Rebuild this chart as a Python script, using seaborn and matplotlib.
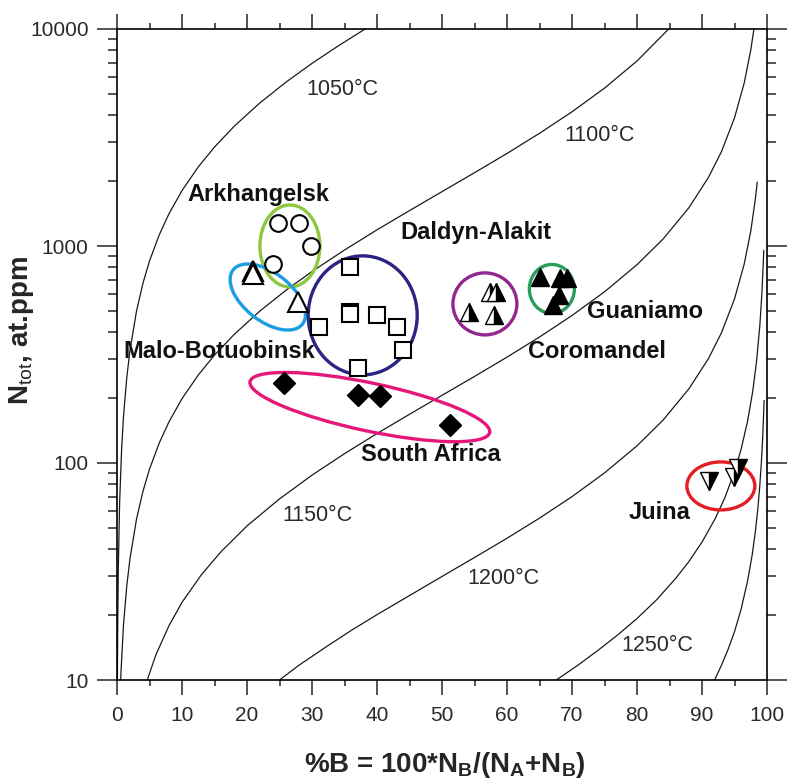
import matplotlib
matplotlib.use("Agg")
import matplotlib.pyplot as plt
import matplotlib.transforms as mtransforms
from matplotlib.patches import Ellipse
from matplotlib.ticker import LogLocator, NullFormatter
import seaborn as sns

# ---------------- data ----------------
# isotherm curves (x = %B, y = N tot, at.ppm)
t1050_x = [0.06, 0.1, 0.2, 0.4, 0.7, 1, 1.5, 2, 3, 4, 5, 6.5, 8, 10, 12.5, 15, 18, 22, 26, 30, 34, 38.2]
t1050_n = [9.7, 16.2, 32.5, 65.1, 114, 164, 247, 331, 501, 675, 853, 1126, 1409, 1800, 2314, 2859, 3556, 4569, 5692, 6943, 8345, 10013]

t1100_x = [0.5, 0.6, 1, 1.5, 2, 3, 4, 5, 6.5, 8, 10, 12.5, 15, 18, 22, 26, 30, 35, 40, 45, 50, 55, 60, 65, 70, 75, 80, 85]
t1100_n = [8.9, 10.7, 18.0, 27.1, 36.3, 55.1, 74.2, 93.7, 123.7, 154.8, 197.8, 254.3, 314.1, 390.7, 502.1, 625.4, 762.9,
           958.5, 1187, 1456, 1780, 2176, 2670, 3306, 4153, 5340, 7120, 10087]

t1150_x = [4, 4.8, 6, 8, 10, 13, 16, 20, 25, 30, 35, 40, 45, 50, 55, 60, 65, 70, 75, 80, 84, 88, 91, 93, 95, 96.5, 97.5, 98]
t1150_n = [8.5, 10.3, 13.1, 17.8, 22.8, 30.6, 39.0, 51.3, 68.3, 87.9, 110.4, 136.7, 167.7, 205, 250.6, 307.5, 380.7,
           478.3, 615, 820, 1076, 1503, 2073, 2724, 3895, 5652, 7995, 10045]

t1200_x = [22, 25, 28, 32, 36, 40, 45, 50, 55, 60, 65, 70, 75, 80, 84, 88, 91, 93, 95, 96.5, 97.5, 98.2, 98.5]
t1200_n = [8.46, 10.0, 11.7, 14.1, 16.9, 20, 24.5, 30, 36.7, 45, 55.7, 70, 90, 120, 157.5, 220, 303, 398.6, 570, 827,
           1170, 1637, 1970]

t1250_x = [66, 68, 71, 74, 77, 80, 83, 86, 88, 90, 92, 93.5, 95, 96, 97, 97.8, 98.4, 98.9, 99.2, 99.45, 99.5]
t1250_n = [9.3, 10.2, 11.75, 13.7, 16.1, 19.2, 23.4, 29.5, 35.2, 43.2, 55.2, 69.0, 91.2, 115.2, 155.2, 213.4, 295,
           431.6, 595, 868, 955]

t1300_x = [91.5, 92, 93, 94, 95, 96, 97, 97.7, 98.2, 98.6, 98.9, 99.15, 99.35, 99.5, 99.55]
t1300_n = [9.47, 10.1, 11.7, 13.8, 16.7, 21.1, 28.5, 37.4, 48.0, 62.0, 79.1, 102.7, 133.6, 175, 194]

# diamond groups
ark_x = [24.8, 28.0, 29.9, 24.0]
ark_n = [1283, 1283, 995, 826]
malo_x = [20.9, 20.9, 27.8]
malo_n = [770, 746, 552]
dald_x = [35.85, 35.85, 35.85, 39.95, 43.0, 31.0, 44.05, 37.0]
dald_n = [804, 497, 486, 481, 425, 425, 332, 273]
safr_x = [25.7, 37.0, 40.5, 51.2]
safr_n = [234, 206, 204, 150]
coro_x = [57.4, 58.3, 54.2, 58.0]
coro_n = [617, 612, 498, 481]
guan_x = [65.1, 68.15, 69.2, 68.0, 67.0]
guan_n = [722, 713, 713, 594, 535]
juina_x = [91.0, 94.9, 95.5]
juina_n = [82.6, 86, 95]

x_ticks = [0, 10, 20, 30, 40, 50, 60, 70, 80, 90, 100]
x_minor = [5, 15, 25, 35, 45, 55, 65, 75, 85, 95]
y_ticks = [10, 100, 1000, 10000]
y_labels = ["10", "100", "1000", "10000"]

# ---------------- style ----------------
sns.set_style("ticks")
plt.rcParams["font.family"] = ["Liberation Sans", "DejaVu Sans"]
plt.rcParams["mathtext.fontset"] = "custom"
plt.rcParams["mathtext.rm"] = "Liberation Sans"
plt.rcParams["mathtext.bf"] = "Liberation Sans:bold"
plt.rcParams["mathtext.it"] = "Liberation Sans:italic"

fig = plt.figure(figsize=(7.89, 7.80), dpi=100)
ax = fig.add_axes([117 / 789, 100 / 780, 650 / 789, 651 / 780])
ax.set_yscale("log")
ax.set_xlim(0, 100)
ax.set_ylim(10, 10000)

curve_color = "#1a1a1a"
for xs, ns in [(t1050_x, t1050_n), (t1100_x, t1100_n), (t1150_x, t1150_n),
               (t1200_x, t1200_n), (t1250_x, t1250_n), (t1300_x, t1300_n)]:
    sns.lineplot(x=xs, y=ns, ax=ax, color=curve_color, lw=0.9,
                 estimator=None, sort=False, legend=False)

# ellipses (centre in data units, size in pixels)
def add_ellipse(x, y, w_px, h_px, angle, color):
    trans = fig.dpi_scale_trans + mtransforms.ScaledTranslation(x, y, ax.transData)
    e = Ellipse((0, 0), w_px / fig.dpi, h_px / fig.dpi, angle=angle, transform=trans,
                fill=False, ec=color, lw=2.4, zorder=3)
    ax.add_patch(e)

add_ellipse(26.6, 1000, 60, 82, 0, "#8dc63f")
add_ellipse(23.2, 582, 88, 48, -38, "#1b9de2")
add_ellipse(37.8, 479, 109, 119, 0, "#2b2483")
add_ellipse(38.9, 181, 245, 48, -12, "#e6177a")
add_ellipse(56.6, 541, 64, 62, 0, "#92278f")
add_ellipse(66.9, 634, 45, 49, 0, "#2a9d5c")
add_ellipse(92.9, 78.4, 68, 48, 0, "#e31e24")

# markers
ax.plot(ark_x, ark_n, ls="none", marker="o", ms=12, mfc="white", mec="black", mew=1.5, zorder=4)
ax.plot(malo_x, malo_n, ls="none", marker="^", ms=14, mfc="white", mec="black", mew=1.5, zorder=4)
ax.plot(dald_x, dald_n, ls="none", marker="s", ms=11.5, mfc="white", mec="black", mew=1.5, zorder=4)
ax.plot(safr_x, safr_n, ls="none", marker="D", ms=11, mfc="black", mec="black", mew=1, zorder=4)
ax.plot(coro_x, coro_n, ls="none", marker="^", ms=13, fillstyle="right", mfc="black",
        markerfacecoloralt="white", mec="black", mew=1.0, zorder=4)
ax.plot(guan_x, guan_n, ls="none", marker="^", ms=12.5, mfc="black", mec="black", mew=1.0, zorder=4)
ax.plot(juina_x, juina_n, ls="none", marker="v", ms=13, fillstyle="right", mfc="black",
        markerfacecoloralt="white", mec="black", mew=1.0, zorder=4)

# labels of localities
loc_kw = dict(fontsize=17, fontweight="bold", color="#111111", ha="center", va="center", zorder=5)
ax.text(21.8, 1718, "Arkhangelsk", **loc_kw)
ax.text(55.2, 1148, "Daldyn-Alakit", **loc_kw)
ax.text(15.7, 325, "Malo-Botuobinsk", **loc_kw)
ax.text(81.2, 501, "Guaniamo", **loc_kw)
ax.text(73.8, 325, "Coromandel", **loc_kw)
ax.text(48.3, 109, "South Africa", **loc_kw)
ax.text(83.4, 58.9, "Juina", **loc_kw)

# isotherm labels
t_kw = dict(fontsize=15.5, color="#2a2a2a", ha="center", va="center", zorder=5)
ax.text(34.6, 5290, "1050°C", **t_kw)
ax.text(74.3, 3247, "1100°C", **t_kw)
ax.text(30.8, 57.0, "1150°C", **t_kw)
ax.text(59.5, 29.5, "1200°C", **t_kw)
ax.text(83.2, 14.4, "1250°C", **t_kw)

# axes / ticks
for s in ax.spines.values():
    s.set_linewidth(1.2)
    s.set_color("black")
ax.set_xticks(x_ticks)
ax.set_xticklabels([str(v) for v in x_ticks])
ax.set_xticks(x_minor, minor=True)
ax.set_yticks(y_ticks)
ax.set_yticklabels(y_labels)
ax.yaxis.set_minor_locator(LogLocator(base=10, subs=[2, 3, 4, 5, 6, 7, 8, 9]))
ax.yaxis.set_minor_formatter(NullFormatter())
ax.tick_params(axis="x", which="major", direction="out", length=10.8, width=1.1,
               top=True, bottom=True, labelsize=15, pad=8, labelcolor="#2a2a2a")
ax.tick_params(axis="x", which="minor", direction="out", length=4, width=1.1, top=True, bottom=True)
ax.tick_params(axis="y", which="major", direction="out", length=14.5, width=1.1,
               left=True, right=True, labelsize=15, pad=6, labelcolor="#2a2a2a")
ax.tick_params(axis="y", which="minor", direction="out", length=6.5, width=1.1, left=True, right=True)
ax.set_xlabel("")
ax.set_ylabel("")

fig.text(445 / 789, 1 - 765 / 780, r"%B = 100*N$_\mathbf{B}$/(N$_\mathbf{A}$+N$_\mathbf{B}$)",
         fontsize=20, fontweight="bold", ha="center", va="center")
fig.text(22 / 789, 1 - 330 / 780, r"N$_{\mathrm{tot}}$, at.ppm",
         fontsize=20, fontweight="bold", ha="center", va="center", rotation=90)

fig.savefig("out.png", dpi=100, facecolor="white")
